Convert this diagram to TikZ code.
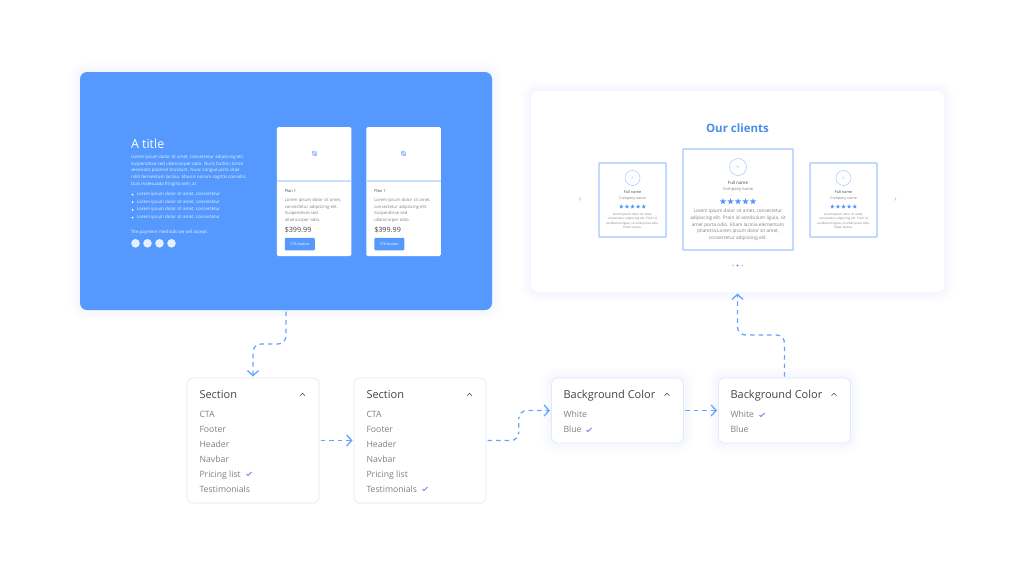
\documentclass[tikz,border=0pt]{standalone}
\usepackage{fontspec}
\setmainfont{Open Sans}
\usetikzlibrary{arrows.meta,calc,shapes.geometric}
\definecolor{ctablue}{HTML}{5599FF}
\definecolor{flowblue}{HTML}{66A3FF}
\definecolor{titleblue}{HTML}{4A8CEB}
\definecolor{edgeblue}{HTML}{A3C6FF}
\definecolor{glowblue}{HTML}{6FA5FF}
\definecolor{softline}{HTML}{E6E8EC}
\definecolor{darktext}{HTML}{444444}
\definecolor{greytext}{HTML}{808080}
\definecolor{tickblue}{HTML}{7A7CF0}
\tikzset{
  glow/.style={preaction={draw=glowblue,line width=20pt,opacity=.012},preaction={draw=glowblue,line width=14pt,opacity=.016},preaction={draw=glowblue,line width=9pt,opacity=.02},preaction={draw=glowblue,line width=4pt,opacity=.025}},
  panel/.style={inner sep=0,outer sep=0,rounded corners=7pt,glow},
  menubox/.style={inner sep=0,outer sep=0,rounded corners=6pt,minimum width=132pt,fill=white,draw=softline,line width=.7pt},
  card/.style={inner sep=0,outer sep=0,rounded corners=1.5pt,fill=white},
  clientbox/.style={inner sep=0,outer sep=0,draw=edgeblue,line width=1.2pt,rounded corners=.5pt,fill=white},
  lefttext/.style={anchor=west,inner sep=0,outer sep=0},
  midtext/.style={anchor=center,inner sep=0,outer sep=0,align=center},
  heading/.style={lefttext,text=darktext,text height=8pt,text depth=0pt,font=\fontsize{11}{13}\selectfont},
  menuitem/.style={lefttext,text=greytext,text height=6.5pt,text depth=0pt,font=\fontsize{8.7}{11}\selectfont},
  caret/.style={draw=darktext,line width=.6pt},
  tick/.style={draw=tickblue,line width=.8pt},
  flow/.style={draw=flowblue,line width=1.3pt,dash pattern=on 4.5pt off 4pt,rounded corners=8pt,shorten <=1.5pt,shorten >=1.5pt,-{Straight Barb[length=5pt,width=11pt,line width=1.3pt]}},
  ministar/.style={star,star points=5,star point ratio=2.3,fill=ctablue,inner sep=0,outer sep=0},
}
\newcommand{\pricecard}[2]{
\node[card,minimum width=74.5pt,minimum height=129pt] (#1) at (#2,191.5) {};
\draw[draw=edgeblue!55,line width=1.2pt] (#1.west |- 0,181) -- (#1.east |- 0,181);
\node[inner sep=0,outer sep=0,fill=edgeblue,minimum size=5pt] (#1icon) at ($(#1.center)+(0,-38)$) {};
\draw[white,line width=.4pt] (#1icon.south west) -- (#1icon.north east);
\node[lefttext,text=darktext,font=\fontsize{4}{5}\selectfont] (#1plan) at ($(#1.west)+(8,-.5)$) {Plan 1};
\foreach \txt [count=\n] in {{Lorem ipsum dolor sit amet,},{consectetur adipiscing elit.},{Suspendisse sed},{ullamcorper odio.}}
  \node[lefttext,text=greytext,font=\fontsize{4.3}{5}\selectfont] (#1line\n) at ($(#1.west)+(8,{8.8+6.6*(\n-1)})$) {\txt};
\node[lefttext,text=darktext,font=\fontsize{7.2}{9}\selectfont] (#1price) at ($(#1.west)+(8,38.5)$) {\$399.99};
\node[inner sep=0,outer sep=0,rounded corners=1pt,fill=ctablue,text=white,minimum width=30pt,minimum height=12.5pt,font=\fontsize{3.6}{4}\selectfont] (#1cta) at ($(#1.west)+(23,52.5)$) {CTA button};
}
\newcommand{\clientcard}[2]{
\node[clientbox,minimum width=67pt,minimum height=74pt] (#1) at (#2,200) {};
\node[circle,draw=edgeblue,line width=.5pt,minimum size=15pt,inner sep=0,text=edgeblue,font=\fontsize{3.6}{4}\selectfont] (#1face) at (#2,178) {A};
\node[midtext,text=darktext,font=\fontsize{3.8}{5}\selectfont] (#1name) at (#2,192) {Full name};
\node[midtext,text=greytext,font=\fontsize{3.6}{5}\selectfont] (#1firm) at (#2,198.7) {Company name};
\foreach \n in {-2,...,2}
  \node[ministar,minimum size=4.6pt] (#1star\n) at ({#2+5.6*\n},206.6) {};
\foreach \txt [count=\n] in {{Lorem ipsum dolor sit amet,},{consectetur adipiscing elit. Proin id},{vestibulum ligula, sit amet porta odio.},{Etiam lacinia.}}
  \node[midtext,text=greytext,font=\fontsize{3}{4}\selectfont] (#1line\n) at (#2,{214.4+4.45*(\n-1)}) {\txt};
}
\newcommand{\sectionbox}[2]{
\node[menubox,minimum height=125pt] (#1) at (#2,440.5) {};
\node[heading] (#1title) at ($(#1.west)+(12.5,-46)$) {Section};
\draw[caret] ($(#1.east)+(-19,-44.8)$) -- ($(#1.east)+(-16.5,-47.2)$) -- ($(#1.east)+(-14,-44.8)$);
\foreach \txt [count=\n] in {CTA,Footer,Header,Navbar,Pricing list,Testimonials}
  \node[menuitem] (#1item\n) at ($(#1.west)+(12.5,{-26.5+15*(\n-1)})$) {\txt};
}
\newcommand{\shadebox}[2]{
\node[menubox,minimum height=65pt,glow,draw=softline] (#1) at (#2,410.5) {};
\node[heading] (#1title) at ($(#1.west)+(12,-16)$) {Background Color};
\draw[caret] ($(#1.east)+(-19,-14.8)$) -- ($(#1.east)+(-16.5,-17.2)$) -- ($(#1.east)+(-14,-14.8)$);
\node[menuitem] (#1white) at ($(#1.west)+(12,4)$) {White};
\node[menuitem] (#1blue) at ($(#1.west)+(12,19)$) {Blue};
}
\begin{document}
\begin{tikzpicture}[x=1pt,y=-1pt]
\useasboundingbox[fill=white] (0,0) rectangle (1024,576);

\node[panel,fill=ctablue,minimum width=412pt,minimum height=238pt] (panelblue) at (286,191) {};
\node[panel,fill=white,minimum width=413pt,minimum height=201pt] (panelwhite) at (737.5,191.5) {};

\node[lefttext,text=white,font=\fontsize{12.5}{14}\selectfont] (heroTitle) at (131,144) {A title};
\foreach \txt [count=\n] in {{Lorem ipsum dolor sit amet, consectetur adipiscing elit.},{Suspendisse sed ullamcorper odio. Nunc facilisis tortor},{venenatis placerat tincidunt. Nunc congue justo vitae},{nibh fermentum lacinia. Mauris rutrum sagittis convallis.},{Duis malesuada fringilla sem, at}}
  \node[lefttext,text=white!88!ctablue,font=\fontsize{4.4}{5}\selectfont] (heroLine\n) at (131,{157.5+6.65*(\n-1)}) {\txt};
\foreach \n in {1,...,4}{
  \node[circle,fill=white,minimum size=2pt,inner sep=0] (dotA\n) at (132.5,{194.5+7.67*(\n-1)}) {};
  \node[lefttext,text=white!88!ctablue,font=\fontsize{4.4}{5}\selectfont] (heroItem\n) at (137,{194.5+7.67*(\n-1)}) {Lorem ipsum dolor sit amet, consectetur};
  \node[circle,fill=white!85!ctablue,minimum size=8.6pt,inner sep=0] (payCoin\n) at ({135.5+12*(\n-1)},243.3) {};
}
\node[lefttext,text=white!88!ctablue,font=\fontsize{4.4}{5}\selectfont] (payText) at (131,232) {The payment methods we will accept:};

\pricecard{planA}{314}
\pricecard{planB}{403.5}

\node[midtext,text=titleblue,font=\fontsize{11.5}{13}\selectfont\bfseries] (clientTitle) at (737.5,128) {Our clients};
\clientcard{clientA}{632.5}
\clientcard{clientC}{843.5}
\node[clientbox,minimum width=110pt,minimum height=101pt] (clientB) at (738,199.5) {};
\node[circle,draw=edgeblue,line width=.5pt,minimum size=17pt,inner sep=0,text=edgeblue,font=\fontsize{4}{5}\selectfont] (clientBface) at (738,167) {A};
\node[midtext,text=darktext,font=\fontsize{4.4}{5}\selectfont] (clientBname) at (738,183) {Full name};
\node[midtext,text=greytext,font=\fontsize{4.1}{5}\selectfont] (clientBfirm) at (738,190) {Company name};
\foreach \n in {-2,...,2}
  \node[ministar,minimum size=6.6pt] (clientBstar\n) at ({738+7.5*\n},201.5) {};
\foreach \txt [count=\n] in {{Lorem ipsum dolor sit amet, consectetur},{adipiscing elit. Proin id vestibulum ligula, sit},{amet porta odio. Etiam lacinia elementum},{pharetra.Lorem ipsum dolor sit amet,},{consectetur adipiscing elit.}}
  \node[midtext,text=greytext,font=\fontsize{4.7}{6}\selectfont] (clientBline\n) at (738,{211.7+6.67*(\n-1)}) {\txt};
\draw[edgeblue,line width=.6pt] (581,197.5) -- (579.5,199) -- (581,200.5);
\draw[edgeblue,line width=.6pt] (894.5,197.5) -- (896,199) -- (894.5,200.5);
\node[circle,fill=softline!70!greytext,minimum size=2pt,inner sep=0] (pageA) at (733,265.5) {};
\node[circle,fill=ctablue,minimum size=2.4pt,inner sep=0] (pageB) at (737.5,265.5) {};
\node[circle,fill=softline!70!greytext,minimum size=2pt,inner sep=0] (pageC) at (742,265.5) {};

\sectionbox{secA}{253}
\sectionbox{secB}{420}
\shadebox{bgA}{617.5}
\shadebox{bgB}{784.5}

\draw[tick] (246.5,474) -- (248,475.5) -- (251.5,472);
\draw[tick] (422.5,489) -- (424,490.5) -- (427.5,487);
\draw[tick] (586.5,430) -- (588,431.5) -- (591.5,428);
\draw[tick] (759.5,415) -- (761,416.5) -- (764.5,413);

\draw[flow] (panelblue.south) |- ($(panelblue.south)!.5!(secA.north)$) -| (secA.north);
\draw[flow] (secA.east) -- (secB.west);
\draw[flow] (secB.east) -| ($(secB.east)!.5!(bgA.west)$) |- (bgA.west);
\draw[flow] (bgA.east) -- (bgB.west);
\draw[flow] (bgB.north) |- ($(bgB.north)!.5!(panelwhite.south)$) -| (panelwhite.south);
\end{tikzpicture}
\end{document}
